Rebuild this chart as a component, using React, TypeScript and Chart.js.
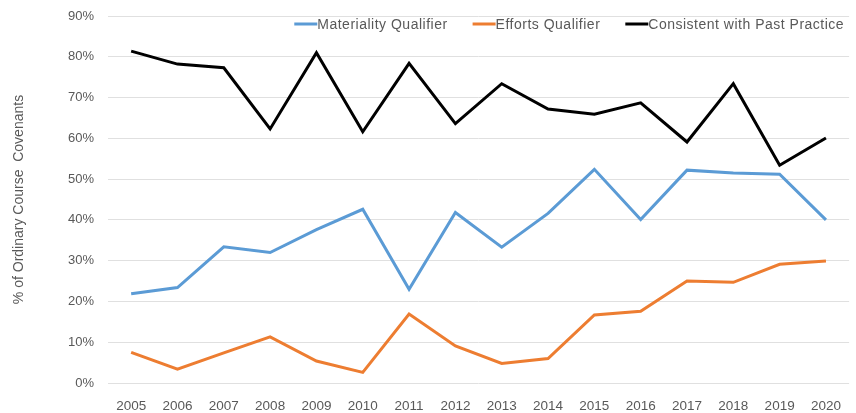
import React, { useEffect, useRef } from "react";
import { Chart, registerables } from "chart.js";

Chart.register(...registerables);

const years = ["2005","2006","2007","2008","2009","2010","2011","2012","2013","2014","2015","2016","2017","2018","2019","2020"];
const materiality = [21.9, 23.4, 33.4, 32.0, 37.6, 42.6, 23.0, 41.8, 33.3, 41.6, 52.4, 40.1, 52.2, 51.5, 51.2, 40.0];
const efforts = [7.5, 3.4, 7.4, 11.3, 5.4, 2.6, 16.9, 9.1, 4.8, 6.0, 16.7, 17.6, 25.0, 24.7, 29.1, 29.9];
const pastPractice = [81.4, 78.2, 77.3, 62.3, 81.0, 61.6, 78.4, 63.6, 73.4, 67.2, 65.9, 68.7, 59.1, 73.4, 53.4, 60.1];
const seriesNames = ["Materiality Qualifier", "Efforts Qualifier", "Consistent with Past Practice"];
const seriesColors = ["#5B9BD5", "#ED7D31", "#000000"];
const yTitle = "% of Ordinary Course  Covenants";

const FONT = "'Liberation Sans', Arial, sans-serif";
const TEXT = "#595959";

const legendPlugin = {
  id: "customLegend",
  afterDraw(chart: any) {
    const ctx = chart.ctx;
    ctx.save();
    ctx.font = `14px ${FONT}`;
    try { (ctx as any).letterSpacing = "0.5px"; } catch (e) {}
    const lineW = 23;
    const gap = 25;
    const items = chart.data.datasets.map((d: any) => ({ label: d.label, color: d.borderColor, w: ctx.measureText(d.label).width }));
    const total = items.reduce((s: number, it: any) => s + lineW + it.w, 0) + gap * (items.length - 1);
    let x = chart.chartArea.right - 5 - total;
    const y = chart.chartArea.top + 8;
    ctx.textBaseline = "middle";
    ctx.textAlign = "left";
    for (const it of items) {
      ctx.strokeStyle = it.color;
      ctx.lineWidth = 3;
      ctx.beginPath();
      ctx.moveTo(x, y);
      ctx.lineTo(x + lineW, y);
      ctx.stroke();
      ctx.fillStyle = TEXT;
      ctx.fillText(it.label, x + lineW, y + 1);
      x += lineW + it.w + gap;
    }
    ctx.restore();
  },
};

export default function App() {
  const ref = useRef<HTMLCanvasElement>(null);
  useEffect(() => {
    document.body.style.margin = "0";
    const chart = new Chart(ref.current!, {
      type: "line",
      data: {
        labels: years,
        datasets: [materiality, efforts, pastPractice].map((vals, i) => ({
          label: seriesNames[i],
          data: vals,
          borderColor: seriesColors[i],
          backgroundColor: seriesColors[i],
          borderWidth: 3,
          pointRadius: 0,
          tension: 0,
          fill: false,
        })),
      },
      options: {
        responsive: false,
        animation: false,
        layout: { padding: { top: 16, right: 1, left: 0, bottom: 0 } },
        plugins: { legend: { display: false }, tooltip: { enabled: false } },
        scales: {
          x: {
            offset: true,
            grid: { display: false, drawTicks: false },
            border: { display: false },
            ticks: { color: TEXT, font: { family: FONT, size: 13.5 }, padding: 15, maxRotation: 0, autoSkip: false },
            afterFit: (s: any) => { s.height = 30; },
          },
          y: {
            min: 0,
            max: 90,
            grid: { color: "#E0E0E0", lineWidth: 1, drawTicks: false },
            border: { display: false },
            ticks: { stepSize: 10, color: TEXT, font: { family: FONT, size: 13 }, padding: 14, callback: (v: any) => `${v}%` },
            title: { display: true, text: yTitle, color: TEXT, font: { family: FONT, size: 14 }, padding: { top: 11, bottom: 0 } },
            afterFit: (s: any) => { s.width = 108; s.paddingTop = 4; s.paddingBottom = 0; },
          },
        },
      },
      plugins: [legendPlugin],
    });
    return () => chart.destroy();
  }, []);
  return (
    <div style={{ width: 856, height: 413 }}>
      <canvas ref={ref} width={856} height={413} style={{ display: "block" }} />
    </div>
  );
}
